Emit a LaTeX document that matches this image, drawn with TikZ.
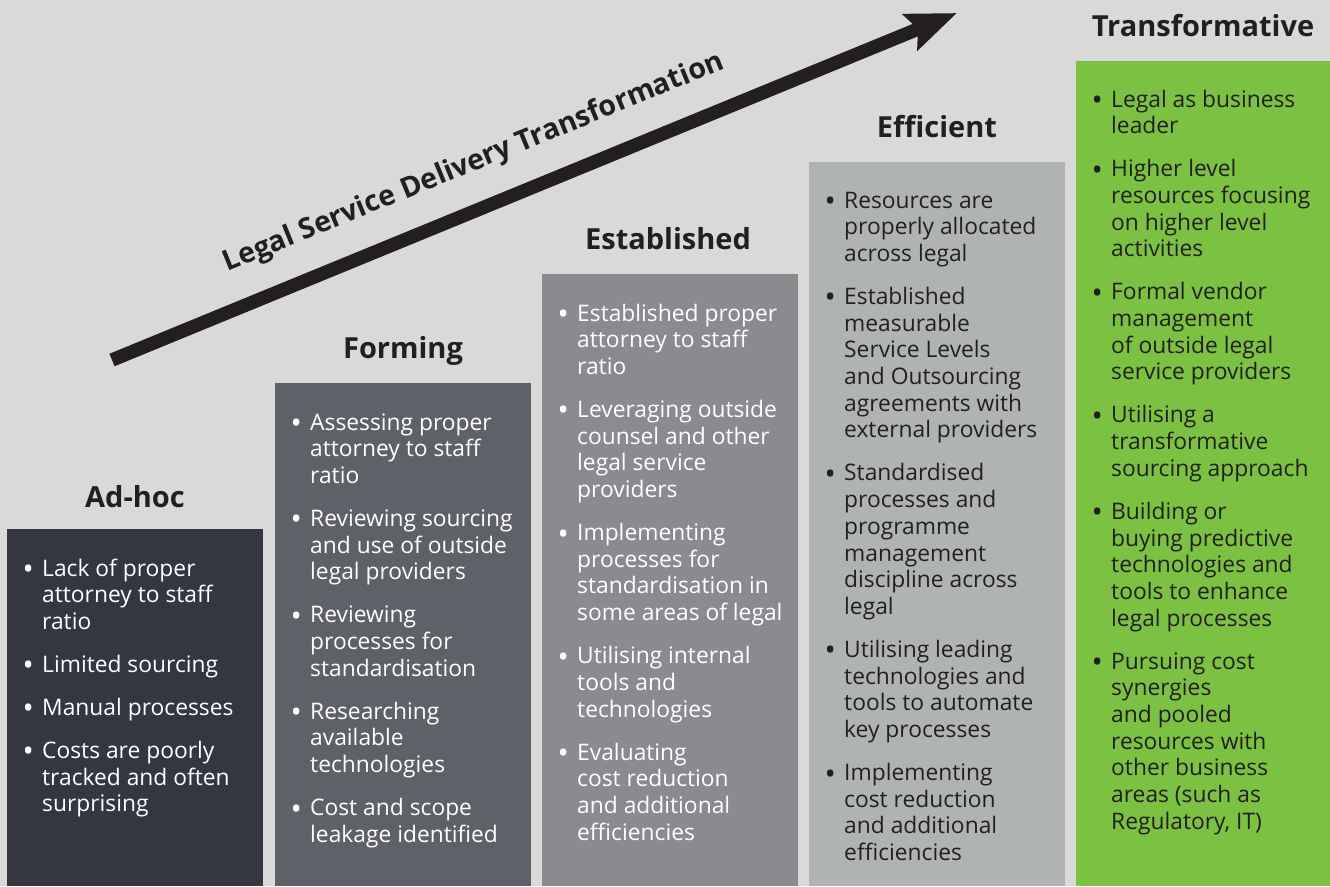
\documentclass[tikz,border=0pt]{standalone}
\usepackage{fontspec}
\setmainfont{Open Sans}
\usetikzlibrary{arrows.meta}
\definecolor{bgc}{HTML}{D9D9D7}
\definecolor{cA}{HTML}{343741}
\definecolor{cB}{HTML}{5F6169}
\definecolor{cC}{HTML}{898B8F}
\definecolor{cD}{HTML}{B0B3B4}
\definecolor{cE}{HTML}{7DC142}
\definecolor{ink}{HTML}{231F20}
\newcommand{\bitem}[1]{\hangindent=19pt\hangafter=1\noindent\makebox[19pt][l]{\hspace{-0.5pt}\raisebox{-3.5pt}{\fontsize{30}{30}\selectfont •}}#1\par\vspace{16.3pt}}
\newcommand{\blist}[1]{\parbox[t]{250pt}{\fontsize{22.8}{26.7}\selectfont #1}}
\tikzset{
  heading/.style={font=\fontsize{29}{33}\selectfont\bfseries, text=ink, inner sep=0pt, anchor=center},
  content/.style={anchor=base west, inner sep=0pt},
}
\begin{document}
\begin{tikzpicture}[x=1pt,y=-1pt]
\fill[bgc] (0,0) rectangle (1330,886);
\useasboundingbox (0,0) rectangle (1330,886);
% boxes
\fill[cA] (7,529) rectangle (263,886);
\fill[cB] (275,383) rectangle (531,886);
\fill[cC] (542,274) rectangle (798,886);
\fill[cD] (809,162) rectangle (1065,886);
\fill[cE] (1076,61) rectangle (1330,886);
% headings
\node[heading] (hA) at (135,497) {Ad-hoc};
\node[heading] (hB) at (403,351) {Forming};
\node[heading] (hC) at (668,239) {Established};
\node[heading] (hD) at (937,127) {Efficient};
\node[heading] (hE) at (1203,26) {Transformative};
% contents
\node[content, text=white] (tA) at (23,576) {\blist{%
\bitem{Lack of proper\\attorney to staff\\ratio}
\bitem{Limited sourcing}
\bitem{Manual processes}
\bitem{Costs are poorly\\tracked and often\\surprising}}};
\node[content, text=white] (tB) at (291,430) {\blist{%
\bitem{Assessing proper\\attorney to staff\\ratio}
\bitem{Reviewing sourcing\\and use of outside\\legal providers}
\bitem{Reviewing\\processes for\\standardisation}
\bitem{Researching\\available\\technologies}
\bitem{Cost and scope\\leakage identified}}};
\node[content, text=white] (tC) at (558,321) {\blist{%
\bitem{Established proper\\attorney to staff\\ratio}
\bitem{Leveraging outside\\counsel and other\\legal service\\providers}
\bitem{Implementing\\processes for\\standardisation in\\some areas of legal}
\bitem{Utilising internal\\tools and\\technologies}
\bitem{Evaluating\\cost reduction\\and additional\\efficiencies}}};
\node[content, text=ink] (tD) at (825,208) {\blist{%
\bitem{Resources are\\properly allocated\\across legal}
\bitem{Established\\measurable\\Service Levels\\and Outsourcing\\agreements with\\external providers}
\bitem{Standardised\\processes and\\programme\\management\\discipline across\\legal}
\bitem{Utilising leading\\technologies and\\tools to automate\\key processes}
\bitem{Implementing\\cost reduction\\and additional\\efficiencies}}};
\node[content, text=ink] (tE) at (1092,107) {\blist{%
\bitem{Legal as business\\leader}
\bitem{Higher level\\resources focusing\\on higher level\\activities}
\bitem{Formal vendor\\management\\of outside legal\\service providers}
\bitem{Utilising a\\transformative\\sourcing approach}
\bitem{Building or\\buying predictive\\technologies and\\tools to enhance\\legal processes}
\bitem{Pursuing cost\\synergies\\and pooled\\resources with\\other business\\areas (such as\\Regulatory, IT)}}};
% arrow
\coordinate (aS) at (112,360);
\coordinate (aT) at (957,13);
\draw[line width=13.5pt, ink, -{Stealth[length=50pt,width=38pt,inset=8pt]}] (aS) -- (aT);
\node[font=\fontsize{28.5}{32}\selectfont\bfseries, text=ink, rotate=22.2, inner sep=0pt] (title) at (474,163) {Legal Service Delivery Transformation};
\end{tikzpicture}
\end{document}
